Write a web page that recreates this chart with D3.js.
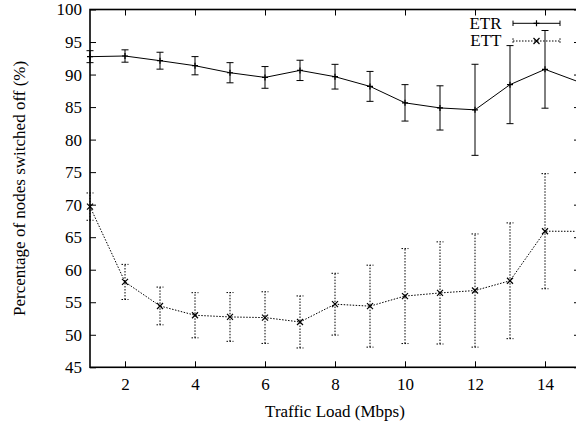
<!DOCTYPE html>
<html>
<head>
<meta charset="utf-8">
<script src="https://cdn.jsdelivr.net/npm/d3@7/dist/d3.min.js"></script>
<style>
  html, body { margin: 0; padding: 0; background: #fff; }
  svg { display: block; }
</style>
</head>
<body>
<svg id="chart" width="576" height="426"></svg>
<script>
// Traffic load (Mbps)
const loads = [1, 2, 3, 4, 5, 6, 7, 8, 9, 10, 11, 12, 13, 14, 15];
// ETR: mean percentage of nodes switched off and error half-widths
const etrMean = [92.75, 92.85, 92.13, 91.36, 90.28, 89.56, 90.64, 89.67, 88.18, 85.65, 84.87, 84.58, 88.45, 90.8, 88.8];
const etrErr  = [0.92, 0.95, 1.3, 1.4, 1.55, 1.67, 1.56, 1.9, 2.3, 2.8, 3.4, 7.0, 6.0, 5.97, 6.0];
// ETT: mean percentage of nodes switched off and error half-widths
const ettMean = [69.7, 58.12, 54.43, 53.0, 52.74, 52.64, 51.97, 54.7, 54.4, 55.95, 56.43, 56.8, 58.3, 65.92, 65.9];
const ettErr  = [2.1, 2.7, 2.9, 3.47, 3.75, 3.97, 4.0, 4.75, 6.3, 7.3, 7.85, 8.7, 8.9, 8.85, 8.8];
// Axis ticks
const xTicks = [2, 4, 6, 8, 10, 12, 14];
const yTicks = [45, 50, 55, 60, 65, 70, 75, 80, 85, 90, 95, 100];
const seriesNames = ["ETR", "ETT"];

const FONT = "'Liberation Serif', 'Times New Roman', Times, 'DejaVu Serif', serif";
const FS = 17;

const svg = d3.select("#chart");
const L = 90, R = 580, T = 9.5, B = 367.3;
const x = d3.scaleLinear().domain([1, 15]).range([L, R]);
const y = d3.scaleLinear().domain([45, 100]).range([B, T]);
const tickLen = 6;

// Axes with inward ticks, mirrored on top and right
const axisG = svg.append("g");
axisG.append("g").attr("transform", `translate(0,${B})`)
  .call(d3.axisBottom(x).tickValues(xTicks).tickSize(-tickLen).tickPadding(11).tickFormat(d3.format("d")))
  .call(g => g.select(".domain").remove());
axisG.append("g").attr("transform", `translate(0,${T})`)
  .call(d3.axisTop(x).tickValues(xTicks).tickSize(-tickLen).tickFormat(""))
  .call(g => g.select(".domain").remove());
axisG.append("g").attr("transform", `translate(${L},0)`)
  .call(d3.axisLeft(y).tickValues(yTicks).tickSize(-tickLen).tickPadding(8).tickFormat(d3.format("d")))
  .call(g => g.select(".domain").remove());
axisG.append("g").attr("transform", `translate(${R},0)`)
  .call(d3.axisRight(y).tickValues(yTicks).tickSize(-tickLen).tickFormat(""))
  .call(g => g.select(".domain").remove());
axisG.selectAll("g").attr("font-family", FONT).attr("font-size", FS);
axisG.selectAll(".tick line").attr("stroke", "#000").attr("stroke-width", 1);
axisG.selectAll(".tick text").attr("fill", "#000");

// Plot border
svg.append("rect").attr("x", L).attr("y", T).attr("width", R - L).attr("height", B - T)
  .attr("fill", "none").attr("stroke", "#000").attr("stroke-width", 1.6);

// Axis titles
svg.append("text").attr("x", (L + R) / 2).attr("y", 416.5).attr("text-anchor", "middle")
  .attr("font-family", FONT).attr("font-size", FS).text("Traffic Load (Mbps)");
svg.append("text").attr("transform", `translate(24.5,${(T + B) / 2}) rotate(-90)`)
  .attr("text-anchor", "middle").attr("font-family", FONT).attr("font-size", FS)
  .text("Percentage of nodes switched off (%)");

const plot = svg.append("g");
const capW = 3.5;

function drawSeries(means, errs, dash, marker) {
  const data = loads.map((d, i) => ({ x: d, m: means[i], e: errs[i] }));
  const g = plot.append("g");
  // connecting line
  g.append("path").datum(data)
    .attr("d", d3.line().x(d => x(d.x)).y(d => y(d.m)))
    .attr("fill", "none").attr("stroke", "#000").attr("stroke-width", 1)
    .attr("stroke-dasharray", dash);
  // error bars
  const eb = g.selectAll(".eb").data(data).join("g").attr("class", "eb");
  eb.append("line").attr("x1", d => x(d.x)).attr("x2", d => x(d.x))
    .attr("y1", d => y(d.m - d.e)).attr("y2", d => y(d.m + d.e));
  eb.append("line").attr("x1", d => x(d.x) - capW).attr("x2", d => x(d.x) + capW)
    .attr("y1", d => y(d.m + d.e)).attr("y2", d => y(d.m + d.e));
  eb.append("line").attr("x1", d => x(d.x) - capW).attr("x2", d => x(d.x) + capW)
    .attr("y1", d => y(d.m - d.e)).attr("y2", d => y(d.m - d.e));
  eb.selectAll("line").attr("stroke", "#000").attr("stroke-width", 1).attr("stroke-dasharray", dash);
  // point markers
  g.selectAll(".pt").data(data).join("path").attr("class", "pt")
    .attr("transform", d => `translate(${x(d.x)},${y(d.m)})`)
    .attr("d", marker).attr("stroke", "#000").attr("stroke-width", 1.2).attr("fill", "none");
}

const plusMark = "M-3,0H3M0,-3V3";
const crossMark = "M-3,-3L3,3M-3,3L3,-3";
drawSeries(etrMean, etrErr, null, plusMark);
drawSeries(ettMean, ettErr, "1.5,1.5", crossMark);

// Legend
const legend = svg.append("g");
const legendRows = [
  { name: seriesNames[0], y: 23.3, dash: null, mark: plusMark },
  { name: seriesNames[1], y: 41, dash: "1.5,1.5", mark: crossMark }
];
legendRows.forEach(r => {
  legend.append("text").attr("x", 501.5).attr("y", r.y + 5.2).attr("text-anchor", "end")
    .attr("font-family", FONT).attr("font-size", FS).text(r.name);
  const lx1 = 513, lx2 = 560, cap = 2.7;
  legend.append("line").attr("x1", lx1).attr("x2", lx2).attr("y1", r.y).attr("y2", r.y)
    .attr("stroke", "#000").attr("stroke-width", 1).attr("stroke-dasharray", r.dash);
  [lx1, lx2].forEach(cx => legend.append("line").attr("x1", cx).attr("x2", cx)
    .attr("y1", r.y - cap).attr("y2", r.y + cap)
    .attr("stroke", "#000").attr("stroke-width", 1).attr("stroke-dasharray", r.dash));
  legend.append("path").attr("transform", `translate(${(lx1 + lx2) / 2},${r.y})`)
    .attr("d", r.mark).attr("stroke", "#000").attr("stroke-width", 1.2).attr("fill", "none");
});
</script>
</body>
</html>
